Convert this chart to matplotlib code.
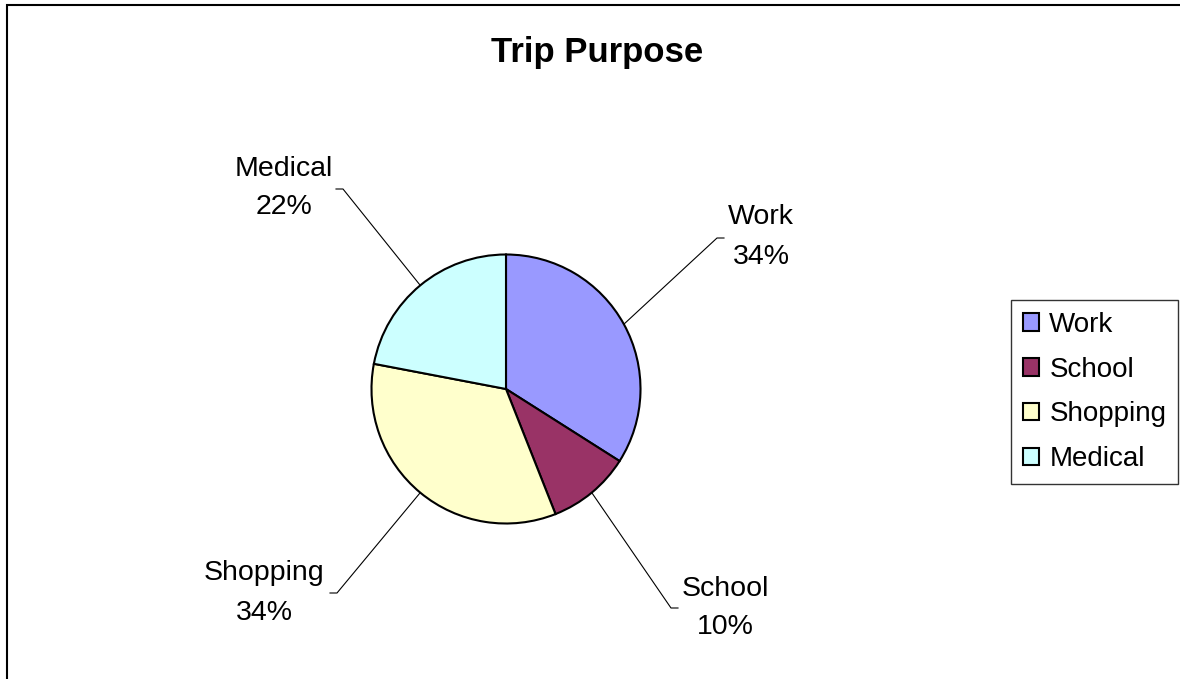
"""Trip purpose pie chart."""

import matplotlib.pyplot as plt
import numpy as np

W, H = 1180, 679

purposes = ["Work", "School", "Shopping", "Medical"]
shares = [34, 10, 34, 22]
colors = ["#9999FF", "#993366", "#FFFFCC", "#CCFFFF"]

plt.rcParams["font.family"] = ["Liberation Sans", "DejaVu Sans"]


def flip(y):
    """Pixel row measured from the top -> data y measured from the bottom."""
    return H - y


fig = plt.figure(figsize=(W / 100, H / 100), dpi=100)
ax = fig.add_axes([0, 0, 1, 1])

center = (506, flip(389))
radius = 134.5
wedges, _ = ax.pie(
    shares,
    colors=colors,
    startangle=90,
    counterclock=False,
    center=center,
    radius=radius,
    wedgeprops=dict(edgecolor="black", linewidth=1.5),
)
ax.set_xlim(0, W)
ax.set_ylim(0, H)
ax.axis("off")

# elbow of the leader line, centre of the label, side the stub points to
label_pos = {
    "Work": ((717, 238), (761, 237), 1),
    "School": ((671, 608), (725, 608), 1),
    "Shopping": ((337, 593), (264, 593), -1),
    "Medical": ((343, 189), (284, 188), -1),
}
stub = 7

for w, name, share in zip(wedges, purposes, shares):
    mid = np.deg2rad((w.theta1 + w.theta2) / 2)
    x0 = center[0] + radius * np.cos(mid)
    y0 = center[1] + radius * np.sin(mid)
    (ex, ey), (tx, ty), side = label_pos[name]
    ax.plot([x0, ex, ex + side * stub], [y0, flip(ey), flip(ey)],
            color="black", lw=0.8)
    ax.text(tx, flip(ty), f"{name}\n{share}%", ha="center", va="center",
            fontsize=20.5, linespacing=1.65)

fig.text(597 / W, 1 - 62 / H, "Trip Purpose", ha="center", va="baseline",
         fontsize=25, fontweight="bold")

leg = fig.legend(
    wedges, purposes,
    loc="upper left",
    bbox_to_anchor=(1011 / W, 1 - 300 / H),
    fontsize=20,
    frameon=True,
    fancybox=False,
    edgecolor="black",
    handlelength=0.6,
    handleheight=0.6,
    handletextpad=0.36,
    labelspacing=0.68,
    borderpad=0.42,
    borderaxespad=0,
)
leg.get_frame().set_linewidth(1.0)

# chart border (top and left edges fall inside the image)
ax.plot([7, 7, W], [0, flip(4.5), flip(4.5)], color="black", lw=1.5,
        clip_on=False, solid_joinstyle="miter")

fig.savefig("out.png", dpi=100)
